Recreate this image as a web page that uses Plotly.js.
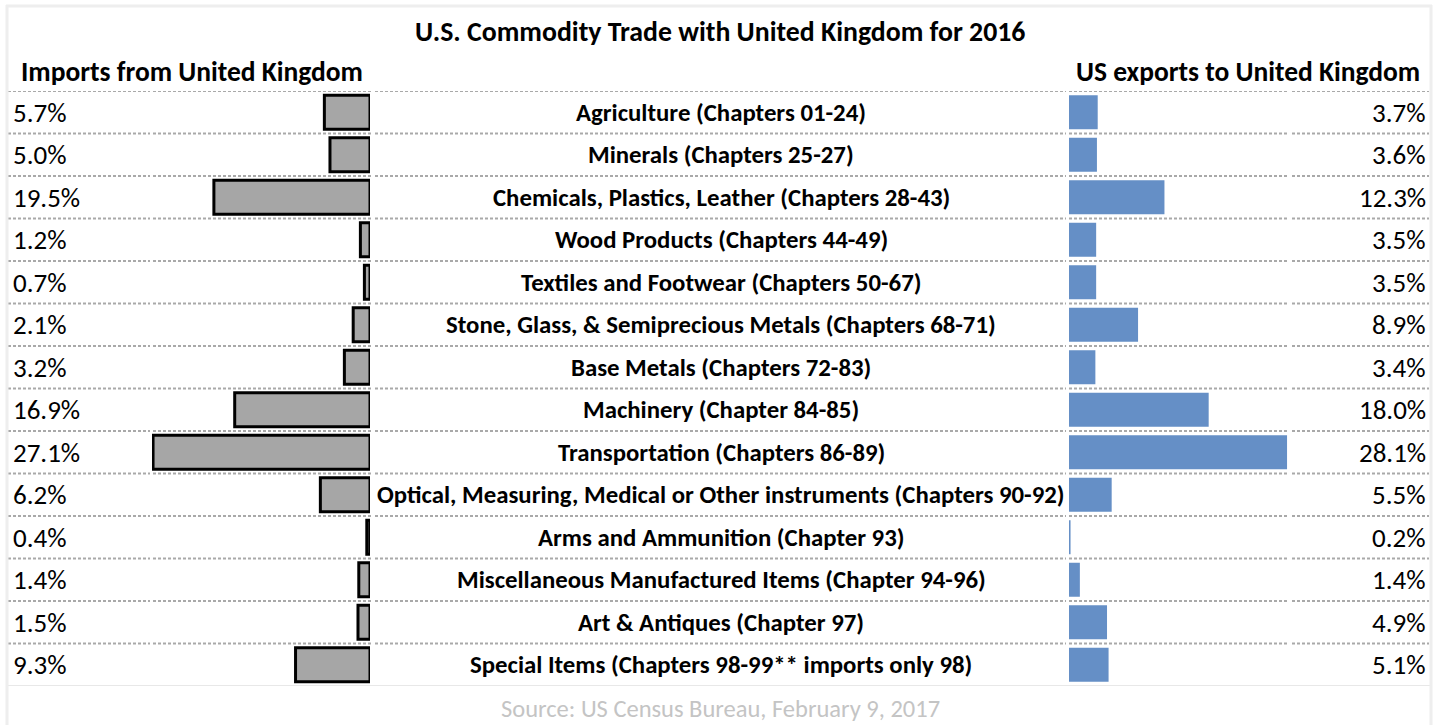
<!DOCTYPE html>
<html>
<head>
<meta charset="utf-8">
<script src="https://cdn.plot.ly/plotly-3.0.1.min.js"></script>
<style>
html,body{margin:0;padding:0;background:#fff;}
#chart{width:1441px;height:725px;}
</style>
</head>
<body>
<div id="chart"></div>
<script>
// ---- Data ----
const categories = [
  "Agriculture (Chapters 01-24)",
  "Minerals (Chapters 25-27)",
  "Chemicals, Plastics, Leather (Chapters 28-43)",
  "Wood Products (Chapters 44-49)",
  "Textiles and Footwear (Chapters 50-67)",
  "Stone, Glass, & Semiprecious Metals (Chapters 68-71)",
  "Base Metals (Chapters 72-83)",
  "Machinery (Chapter 84-85)",
  "Transportation (Chapters 86-89)",
  "Optical, Measuring, Medical or Other instruments (Chapters 90-92)",
  "Arms and Ammunition (Chapter 93)",
  "Miscellaneous Manufactured Items (Chapter 94-96)",
  "Art & Antiques (Chapter 97)",
  "Special Items (Chapters 98-99** imports only 98)"
];
const importsFromUK = [5.7, 5.0, 19.5, 1.2, 0.7, 2.1, 3.2, 16.9, 27.1, 6.2, 0.4, 1.4, 1.5, 9.3];
const exportsToUK   = [3.7, 3.6, 12.3, 3.5, 3.5, 8.9, 3.4, 18.0, 28.1, 5.5, 0.2, 1.4, 4.9, 5.1];

const chartTitle = "U.S. Commodity Trade with United Kingdom for 2016";
const leftHeader = "Imports from United Kingdom";
const rightHeader = "US exports to United Kingdom";
const sourceNote = "Source: US Census Bureau, February 9, 2017";

// ---- Layout helpers ----
const W = 1441, H = 725;
const px = v => v / W;
const py = v => 1 - v / H;
const FONT = "Carlito, 'Liberation Sans Narrow', 'DejaVu Sans Condensed', Calibri, sans-serif";

const rowIdx = categories.map((_, i) => i);

const traces = [
  {
    type: "bar", orientation: "h",
    y: rowIdx, x: importsFromUK,
    xaxis: "x", yaxis: "y",
    width: 0.8,
    marker: {color: "#a6a6a6", line: {color: "#000000", width: 3}},
    hoverinfo: "skip", showlegend: false
  },
  {
    type: "bar", orientation: "h",
    y: rowIdx, x: exportsToUK,
    xaxis: "x2", yaxis: "y",
    width: 0.8,
    marker: {color: "#658fc6", line: {width: 0}},
    hoverinfo: "skip", showlegend: false
  }
];

const annotations = [];
const txt = (text, x, y, opts) => Object.assign({
  text: text, x: x, y: y, xref: "paper", yref: "paper",
  showarrow: false, xanchor: "center", yanchor: "middle",
  font: {family: FONT, size: 24, color: "#000"}
}, opts || {});

annotations.push(txt("<b>" + chartTitle + "</b>", px(720), py(32), {font: {family: FONT, size: 27.8, color: "#000"}}));
annotations.push(txt("<b>" + leftHeader + "</b>", px(19), py(72), {xanchor: "left", font: {family: FONT, size: 27.5, color: "#000"}}));
annotations.push(txt("<b>" + rightHeader + "</b>", px(1422), py(72), {xanchor: "right", font: {family: FONT, size: 27.5, color: "#000"}}));
annotations.push(txt(sourceNote, px(720), py(709), {font: {family: FONT, size: 24.5, color: "#c4c4c4"}}));

categories.forEach((c, i) => {
  annotations.push(txt("<b>" + c + "</b>", px(721), i, {yref: "y", font: {family: FONT, size: 24.8, color: "#000"}}));
  annotations.push(txt(importsFromUK[i].toFixed(1) + "%", px(11), i, {yref: "y", xanchor: "left", font: {family: FONT, size: 27, color: "#000"}}));
  annotations.push(txt(exportsToUK[i].toFixed(1) + "%", px(1428), i, {yref: "y", xanchor: "right", font: {family: FONT, size: 27, color: "#000"}}));
});

// ---- Grid lines (dotted, split at column boundaries) ----
const shapes = [];
const colSegs = [[8, 150], [153, 372], [375, 1066], [1069, 1289], [1292, 1429]];
for (let k = 0; k < categories.length; k++) {
  colSegs.forEach(s => shapes.push({
    type: "line", xref: "paper", yref: "y",
    x0: px(s[0]), x1: px(s[1]), y0: k - 0.5, y1: k - 0.5,
    line: {color: "#a9a9a9", width: 2, dash: "3px,2px"}
  }));
}
// bottom of table
shapes.push({type: "line", xref: "paper", yref: "y", x0: px(7), x1: px(1431),
  y0: categories.length - 0.5, y1: categories.length - 0.5, line: {color: "#e8e8e8", width: 2}});
// outer frame
shapes.push({type: "line", xref: "paper", yref: "paper", x0: px(6), x1: px(1432), y0: py(6), y1: py(6), line: {color: "#eeeeee", width: 3}});
shapes.push({type: "line", xref: "paper", yref: "paper", x0: px(7), x1: px(7), y0: py(5), y1: 0, line: {color: "#eeeeee", width: 3}});
shapes.push({type: "line", xref: "paper", yref: "paper", x0: px(1431), x1: px(1431), y0: py(5), y1: 0, line: {color: "#eeeeee", width: 3}});

const layout = {
  width: W, height: H,
  margin: {l: 0, r: 0, t: 0, b: 0, pad: 0},
  paper_bgcolor: "#ffffff", plot_bgcolor: "rgba(0,0,0,0)",
  showlegend: false,
  barmode: "overlay",
  xaxis: {domain: [px(152), px(370)], range: [27.23, 0], visible: false, fixedrange: true, anchor: "y"},
  xaxis2: {domain: [px(1069), px(1290)], range: [0, 28.48], visible: false, fixedrange: true, anchor: "y"},
  yaxis: {domain: [py(686), py(91)], range: [categories.length - 0.5, -0.5], visible: false, fixedrange: true},
  annotations: annotations,
  shapes: shapes
};

Plotly.newPlot("chart", traces, layout, {displayModeBar: false, staticPlot: true});
</script>
</body>
</html>
